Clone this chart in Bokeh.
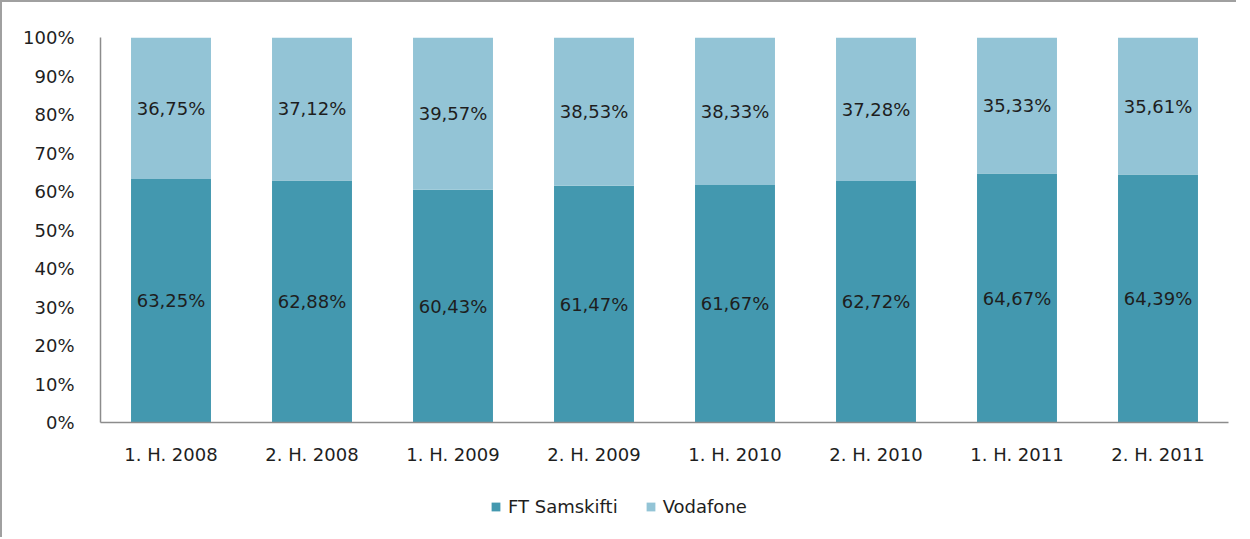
from bokeh.plotting import figure
from bokeh.layouts import column
from bokeh.models import ColumnDataSource, FactorRange, FixedTicker, Legend, LegendItem, Range1d
from bokeh.core.properties import value
from bokeh.embed import file_html
from bokeh.resources import INLINE

categories = ["1. H. 2008", "2. H. 2008", "1. H. 2009", "2. H. 2009",
              "1. H. 2010", "2. H. 2010", "1. H. 2011", "2. H. 2011"]
ft_samskifti = [63.25, 62.88, 60.43, 61.47, 61.67, 62.72, 64.67, 64.39]
vodafone = [36.75, 37.12, 39.57, 38.53, 38.33, 37.28, 35.33, 35.61]
y_ticks = [0, 10, 20, 30, 40, 50, 60, 70, 80, 90, 100]
y_tick_labels = ["0%", "10%", "20%", "30%", "40%", "50%", "60%", "70%", "80%", "90%", "100%"]
series_names = ["FT Samskifti", "Vodafone"]
colors = ["#4398AF", "#93C4D6"]

FONT = "DejaVu Sans"

def fmt(v):
    return ("%.2f" % v).replace(".", ",") + "%"

src = ColumnDataSource(dict(
    cat=categories,
    ft=ft_samskifti,
    vf=vodafone,
    ft_mid=[a / 2 for a in ft_samskifti],
    vf_mid=[a + b / 2 for a, b in zip(ft_samskifti, vodafone)],
    ft_lbl=[fmt(a) for a in ft_samskifti],
    vf_lbl=[fmt(b) for b in vodafone],
))

p = figure(frame_width=1128, frame_height=385, x_range=FactorRange(*categories, range_padding=0),
           y_range=Range1d(0, 100), output_backend="svg", toolbar_location=None,
           min_border_left=98, min_border_right=8, min_border_top=35, min_border_bottom=0)

r = p.vbar_stack(["ft", "vf"], x="cat", width=0.567, source=src, color=colors, line_color=None)

p.text(x="cat", y="ft_mid", text="ft_lbl", source=src, text_align="center", text_baseline="middle",
       text_font=value(FONT), text_font_size="18px", text_color="#1e1e1e")
p.text(x="cat", y="vf_mid", text="vf_lbl", source=src, text_align="center", text_baseline="middle",
       text_font=value(FONT), text_font_size="18px", text_color="#1e1e1e")

p.xgrid.grid_line_color = None
p.ygrid.grid_line_color = None
p.outline_line_color = None

p.yaxis.ticker = FixedTicker(ticks=y_ticks)
p.yaxis.major_label_overrides = {t: l for t, l in zip(y_ticks, y_tick_labels)}
for ax in (p.xaxis, p.yaxis):
    ax.axis_line_color = "#8c8c8c"
    ax.axis_line_width = 1.5
    ax.major_tick_line_color = None
    ax.minor_tick_line_color = None
    ax.major_label_text_font = FONT
    ax.major_label_text_font_size = "18px"
    ax.major_label_text_color = "#1e1e1e"
p.yaxis.major_label_standoff = 20
p.xaxis.major_label_standoff = 15

# legend strip below the chart (its renderers have zero width, so only the legend shows)
lg = figure(width=1234, height=70, output_backend="svg", toolbar_location=None,
            x_axis_type=None, y_axis_type=None, x_range=Range1d(0, 1), y_range=Range1d(0, 1),
            min_border=0)
lg.outline_line_color = None
lg.xgrid.grid_line_color = None
lg.ygrid.grid_line_color = None
lr = [lg.vbar(x=[0.5], top=[1], width=0, color=c, line_color=None) for c in colors]

legend = Legend(items=[LegendItem(label=series_names[0], renderers=[lr[0]]),
                       LegendItem(label=series_names[1], renderers=[lr[1]])],
                orientation="horizontal", location=(390, 20),
                label_text_font=FONT, label_text_font_size="18px", label_text_color="#1e1e1e",
                glyph_width=11, glyph_height=11, spacing=27, label_standoff=7,
                border_line_color=None, background_fill_alpha=0, margin=0, padding=4)
lg.add_layout(legend)

layout = column(p, lg, spacing=0,
                styles={"border-top": "2px solid #a0a0a0", "border-left": "2px solid #a0a0a0"})

open("out.html", "w").write(file_html(layout, INLINE))
